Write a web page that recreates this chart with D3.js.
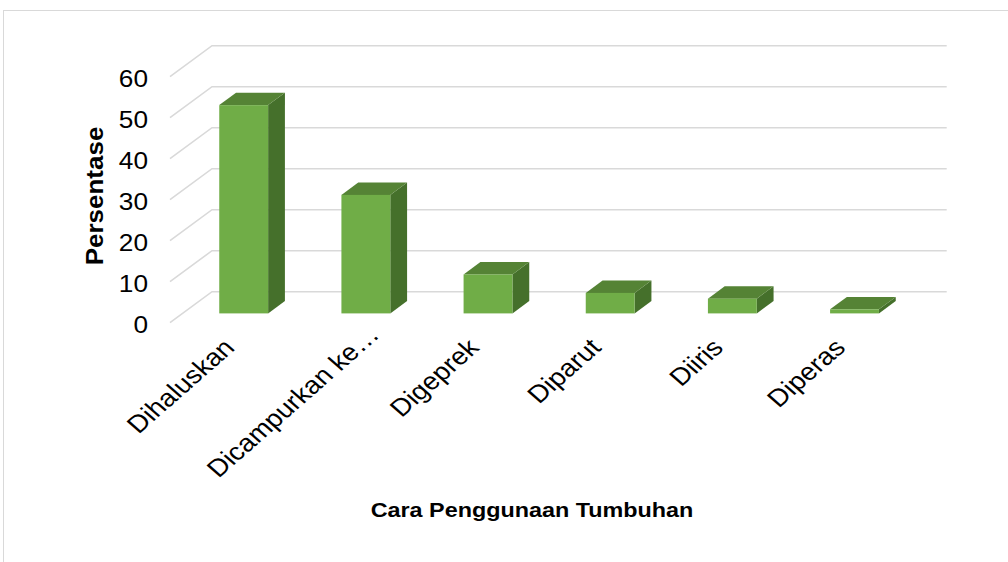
<!DOCTYPE html>
<html>
<head>
<meta charset="utf-8">
<script src="https://cdn.jsdelivr.net/npm/d3@7"></script>
<style>
  html, body { margin: 0; padding: 0; background: #fff; }
  svg { display: block; }
  text { font-family: Arial, "Liberation Sans", sans-serif; fill: #000; }
</style>
</head>
<body>
<svg id="chart" width="1008" height="562"></svg>
<script>
const categories = ["Dihaluskan", "Dicampurkan ke\u2026", "Digeprek", "Diparut", "Diiris", "Diperas"];
const values = [50.8, 28.9, 9.5, 5.0, 3.6, 1.0];
const yTicks = [0, 10, 20, 30, 40, 50, 60];
const xTitle = "Cara Penggunaan Tumbuhan";
const yTitle = "Persentase";

const svg = d3.select("#chart");
const SX = 1.14; // horizontal stretch of the original picture's text

// frame
svg.append("rect").attr("x", 3.5).attr("y", 10.5).attr("width", 1010).attr("height", 560)
  .attr("fill", "#fff").attr("stroke", "#d9d9d9").attr("stroke-width", 1);

// 3D geometry
const DX = 42, DY = 31;          // depth offset from front to back wall
const x = d3.scaleBand().domain(categories).range([170, 903]).paddingInner(0.6).paddingOuter(0.3);
const y = d3.scaleLinear().domain([0, 60]).range([291.7, 45.7]); // back wall
const P = (px, v, d) => [px + d * DX, y(v) + (1 - d) * DY];   // d: 0 front, 1 back

// gridlines on back wall + side wall diagonals
const grid = svg.append("g");
yTicks.forEach(t => {
  const a = P(170, t, 0), b = P(170, t, 1), c = P(903, t, 1);
  grid.append("path").attr("d", `M${a[0]},${a[1]}L${b[0]},${b[1]}L${c[0] + 1.7},${c[1]}`)
    .attr("fill", "none").attr("stroke", "#d9d9d9").attr("stroke-width", 1.6);
});

// y tick labels
svg.append("g").selectAll("text").data(yTicks).join("text")
  .attr("transform", d => `translate(148,${P(170, d, 0)[1] + 2}) scale(${SX},1)`)
  .attr("dy", "0.35em").attr("text-anchor", "end")
  .attr("font-size", 23).text(d => d);

// bars
const d0 = 0.3, d1 = 0.7;
const bars = svg.append("g");
categories.forEach((c, i) => {
  const v = values[i];
  const xl = x(c), xr = x(c) + x.bandwidth();
  const poly = pts => pts.map(p => p.join(",")).join(" ");
  bars.append("polygon").attr("points", poly([P(xr, 0, d0), P(xr, v, d0), P(xr, v, d1), P(xr, 0, d1)]))
    .attr("fill", "#45702b");
  bars.append("polygon").attr("points", poly([P(xl, v, d0), P(xr, v, d0), P(xr, v, d1), P(xl, v, d1)]))
    .attr("fill", "#558335");
  const f0 = P(xl, v, d0), f1 = P(xr, 0, d0);
  bars.append("rect").attr("x", f0[0]).attr("y", f0[1])
    .attr("width", f1[0] - f0[0]).attr("height", f1[1] - f0[1])
    .attr("fill", "#70ad47");
});

// category labels (truncated labels sit a little further along, as in the original)
svg.append("g").selectAll("text").data(categories).join("text")
  .attr("transform", d => `translate(${x(d) + x.bandwidth() / 2 + 5},349) scale(${SX},1) rotate(-45)`)
  .attr("dx", d => d.endsWith("\u2026") ? 23 : 0)
  .attr("dy", d => d.endsWith("\u2026") ? 5 : 0)
  .attr("text-anchor", "end").attr("font-size", 24.5).text(d => d);

// axis titles
svg.append("text").attr("transform", `translate(532,517) scale(${SX},1)`).attr("text-anchor", "middle")
  .attr("font-size", 20.5).attr("font-weight", "bold").text(xTitle);
svg.append("text").attr("transform", "translate(103,196) rotate(-90) scale(1.12,1)").attr("text-anchor", "middle")
  .attr("font-size", 23.2).attr("font-weight", "bold").text(yTitle);
</script>
</body>
</html>
